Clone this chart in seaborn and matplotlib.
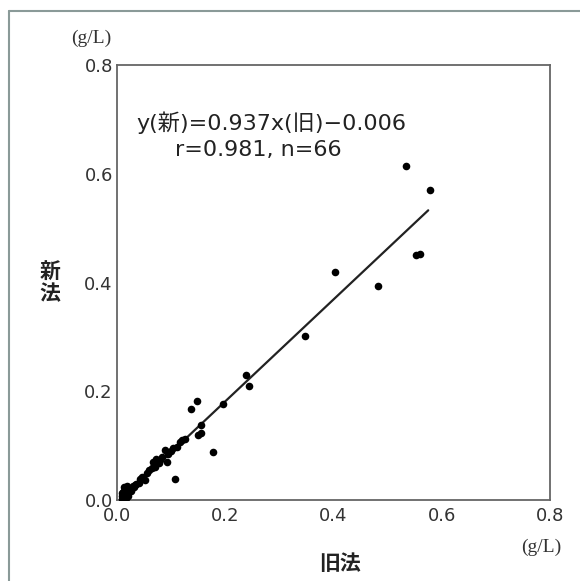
import numpy as np
import pandas as pd
import matplotlib.pyplot as plt
import seaborn as sns

# old method (x) vs new method (y), g/L
old_method = [0.534, 0.578, 0.553, 0.560, 0.403, 0.482, 0.347, 0.238, 0.244,
              0.196, 0.147, 0.136, 0.156, 0.150, 0.155, 0.177, 0.107,
              0.116, 0.126, 0.110, 0.089, 0.073, 0.067, 0.083, 0.070, 0.092,
              0.046, 0.052, 0.040, 0.030, 0.024, 0.100, 0.095, 0.080, 0.060,
              0.055, 0.036, 0.033, 0.028, 0.026, 0.022, 0.020, 0.018, 0.016,
              0.015, 0.014, 0.012, 0.011, 0.010, 0.010, 0.009, 0.013, 0.017,
              0.019, 0.021, 0.023, 0.015, 0.012, 0.020, 0.025, 0.031, 0.043,
              0.065, 0.077, 0.104, 0.120]
new_method = [0.614, 0.570, 0.451, 0.452, 0.419, 0.394, 0.302, 0.230, 0.210,
              0.177, 0.182, 0.167, 0.138, 0.120, 0.123, 0.089, 0.039,
              0.107, 0.113, 0.098, 0.092, 0.075, 0.070, 0.080, 0.061, 0.070,
              0.043, 0.037, 0.031, 0.025, 0.018, 0.090, 0.085, 0.073, 0.055,
              0.050, 0.030, 0.028, 0.022, 0.020, 0.016, 0.014, 0.010, 0.012,
              0.006, 0.020, 0.004, 0.015, 0.002, 0.008, 0.012, 0.024, 0.004,
              0.026, 0.008, 0.018, 0.000, 0.010, 0.022, 0.016, 0.024, 0.038,
              0.058, 0.068, 0.096, 0.110]

slope = 0.937
intercept = -0.006
line_x = [0.0064, 0.575]

ticks = [0.0, 0.2, 0.4, 0.6, 0.8]
tick_labels = ["0.0", "0.2", "0.4", "0.6", "0.8"]

df = pd.DataFrame({"old": old_method, "new": new_method})
fit = pd.DataFrame({"x": line_x})
fit["y"] = slope * fit["x"] + intercept

sns.set_style("white")
plt.rcParams['font.family'] = ['DejaVu Sans', 'Noto Sans CJK JP']

fig = plt.figure(figsize=[5.8, 5.81], dpi=100)
ax = fig.add_axes([0.2017, 0.1394, 0.7466, 0.7487])

sns.lineplot(x="x", y="y", data=fit, color="#222222", linewidth=1.6, ax=ax)
sns.scatterplot(x="old", y="new", data=df, color="black", s=30, edgecolor="black",
                linewidth=0, ax=ax, zorder=3)

ax.set_xlim(0, 0.8)
ax.set_ylim(0, 0.8)
ax.set_xticks(ticks)
ax.set_xticklabels(tick_labels)
ax.set_yticks(ticks)
ax.set_yticklabels(tick_labels)
ax.tick_params(direction="in", length=5, width=1, color="#777777", labelsize=13,
               labelcolor="#333333", pad=3)
ax.tick_params(axis="x", pad=5)
for sp in ax.spines.values():
    sp.set_color("#666666")
    sp.set_linewidth(1.3)
ax.set_xlabel("")
ax.set_ylabel("")

ax.text(0.036, 0.68, "y(新)=0.937x(旧)\u22120.006", fontsize=16, color="#222222")
ax.text(0.107, 0.633, "r=0.981, n=66", fontsize=16, color="#222222")

fig.text(91 / 580, 1 - 38 / 581, "(g/L)", fontsize=14, ha="center", va="center",
         color="#333333", family=["Liberation Serif", "DejaVu Sans"])
fig.text(541 / 580, 1 - 547 / 581, "(g/L)", fontsize=14, ha="center", va="center",
         color="#333333", family=["Liberation Serif", "DejaVu Sans"])
fig.text(340 / 580, 1 - 563 / 581, "旧法", fontsize=15, fontweight="bold", ha="center",
         va="center", color="#222222", family=["Noto Sans CJK JP"])
fig.text(50 / 580, 1 - 283 / 581, "新\n法", fontsize=15, fontweight="bold", ha="center",
         va="center", color="#222222", linespacing=1.0, family=["Noto Sans CJK JP"])

# outer frame (left and top edges)
fig.add_artist(plt.Line2D([9 / 580, 9 / 580], [0, 1 - 11 / 581], transform=fig.transFigure,
                          color="#8a9a98", linewidth=1.5))
fig.add_artist(plt.Line2D([9 / 580, 1], [1 - 11 / 581, 1 - 11 / 581], transform=fig.transFigure,
                          color="#8a9a98", linewidth=1.5))

plt.savefig("out.png", dpi=100)
